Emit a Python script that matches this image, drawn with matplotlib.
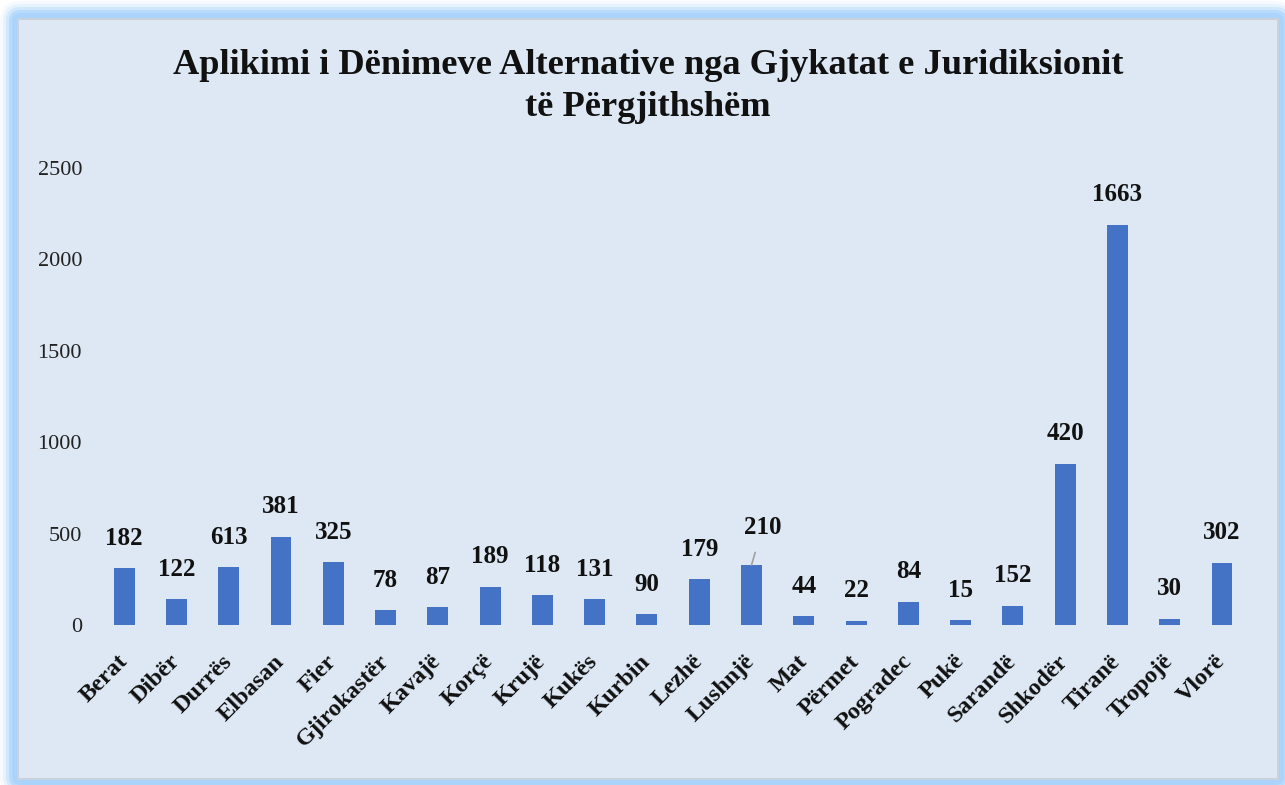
import matplotlib
matplotlib.use("Agg")
import matplotlib.pyplot as plt
from matplotlib.patches import FancyBboxPatch, Rectangle

plt.rcParams.update({
    "font.family": ["Liberation Serif", "DejaVu Serif"],
})

# ---- data ----
districts = ["Berat", "Dibër", "Durrës", "Elbasan", "Fier", "Gjirokastër", "Kavajë",
             "Korçë", "Krujë", "Kukës", "Kurbin", "Lezhë", "Lushnjë", "Mat", "Përmet",
             "Pogradec", "Pukë", "Sarandë", "Shkodër", "Tiranë", "Tropojë", "Vlorë"]
# bar heights as drawn against the axis
bar_values = [311, 142, 317, 481, 344, 82, 98, 208, 164, 142, 60, 251, 328, 49, 22,
              126, 27, 104, 880, 2186, 34, 340]
# data labels printed above the bars
bar_labels = [182, 122, 613, 381, 325, 78, 87, 189, 118, 131, 90, 179, 210, 44, 22,
              84, 15, 152, 420, 1663, 30, 302]
y_ticks = [0, 500, 1000, 1500, 2000, 2500]

TITLE_1 = "Aplikimi i Dënimeve Alternative nga Gjykatat e Juridiksionit"
TITLE_2 = "të Përgjithshëm"

BAR = "#4472c4"
PANEL = "#dde8f4"
GLOW = "#a9d4fb"
INK = "#111111"

fig = plt.figure(figsize=(12.85, 7.85), dpi=100, facecolor="white")

# ---- framed panel with soft blue glow ----
bg = fig.add_axes([0, 0, 1, 1])
bg.set_xlim(0, 1285)
bg.set_ylim(785, 0)
bg.axis("off")
for pad, a in [(18, 0.10), (15, 0.2), (12, 0.35), (9, 0.6), (6, 0.9)]:
    bg.add_patch(FancyBboxPatch((18 - pad, 19 - pad), 1260 + 2 * pad, 760 + 2 * pad,
                                boxstyle=f"round,pad=0,rounding_size={pad + 3}",
                                facecolor=GLOW, edgecolor="none", alpha=a, zorder=1))
bg.add_patch(Rectangle((18, 19), 1260, 760, facecolor=PANEL, edgecolor="#c9d2dc",
                       linewidth=1.5, zorder=2))

bg.text(648, 66, TITLE_1, ha="center", va="center", fontsize=26.2, fontweight="bold",
        color=INK, zorder=3)
bg.text(648, 108, TITLE_2, ha="center", va="center", fontsize=26.2, fontweight="bold",
        color=INK, zorder=3)

# ---- chart ----
ax = fig.add_axes([0.0763, 0.2038, 0.895, 0.5828])
ax.set_facecolor("none")
x = list(range(len(districts)))
ax.bar(x, bar_values, width=0.40, color=BAR, zorder=2)
ax.set_xlim(-0.5, len(districts) - 0.5)
ax.set_ylim(0, 2500)
ax.set_yticks(y_ticks)
ax.set_yticklabels([str(t) for t in y_ticks], fontsize=16, color="#222222")
ax.set_xticks(x)
ax.set_xticklabels(districts, rotation=45, ha="right", va="center",
                   rotation_mode="anchor", fontsize=17.5, fontweight="bold", color=INK)
ax.tick_params(axis="both", length=0)
ax.tick_params(axis="y", pad=11.5)
ax.tick_params(axis="x", pad=24)
for s in ax.spines.values():
    s.set_visible(False)

for i, (v, lab) in enumerate(zip(bar_values, bar_labels)):
    if districts[i] == "Lushnjë":
        ax.annotate(str(lab), xy=(i, v), xytext=(8, 27), textcoords="offset points",
                    ha="center", va="center", fontsize=18, fontweight="bold", color=INK,
                    arrowprops=dict(arrowstyle="-", color="#a0a0a0", lw=1.2,
                                    shrinkA=8, shrinkB=0))
    else:
        ax.annotate(str(lab), xy=(i, v), xytext=(0, 21.6), textcoords="offset points",
                    ha="center", va="center", fontsize=18, fontweight="bold", color=INK)

fig.savefig("out.png", dpi=100, facecolor="white")
